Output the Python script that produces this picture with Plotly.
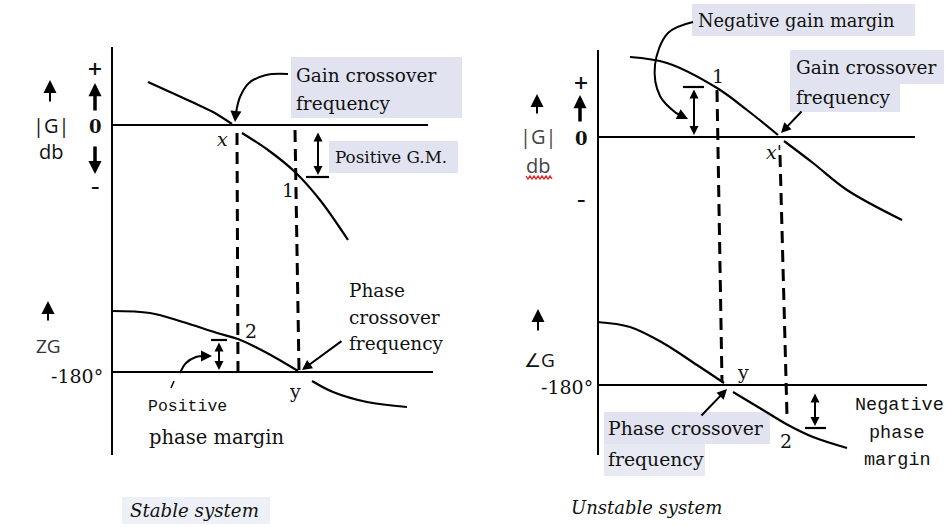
import plotly.graph_objects as go

# ---------------- data (diagram canvas units, 946 x 527) ----------------
# Stable system: magnitude curve (gap around the crossover point x)
stable_gain_x = [148, 170, 192, 213, 232, None, 242, 268, 295, 320, 348]
stable_gain_y = [82, 92, 102, 112, 124, None, 133, 150, 172, 200, 240]
# Stable system: phase curve (gap around the crossover point y)
stable_phase_x = [112, 150, 183, 217, 238, 267, 298, None, 312, 333, 367, 407]
stable_phase_y = [311, 313, 322, 333, 339, 353, 371, None, 381, 392, 402, 407]
# Unstable system: magnitude curve
unstable_gain_x = [630, 667, 717, 747, 778, None, 784, 813, 847, 902]
unstable_gain_y = [57, 63, 88, 110, 135, None, 141, 163, 190, 220]
# Unstable system: phase curve
unstable_phase_x = [597, 630, 663, 697, 724, None, 733, 763, 788, 813, 847]
unstable_phase_y = [322, 327, 343, 365, 383, None, 392, 410, 425, 437, 448]

# dashed frequency markers (top, bottom)
stable_marker_x = [[237, 238], [295, 299]]
stable_marker_y = [[133, 373], [130, 370]]
unstable_marker_x = [[717, 722], [780, 787]]
unstable_marker_y = [[90, 382], [155, 416]]

# reference lines: 0 dB and -180 deg
ref_x = [[112, 428], [112, 433], [598, 915], [598, 927]]
ref_y = [[125, 125], [372, 372], [137, 137], [385, 385]]
axis_x = [[112, 112], [598, 598]]
axis_y = [[47, 455], [50, 455]]

# curved callout arrows
gain_arrow_x = [288, 266, 249, 240, 236]
gain_arrow_y = [74, 75, 83, 97, 113]
pm_arrow_x = [180, 186, 196, 207]
pm_arrow_y = [373, 363, 357, 356]
ngm_arrow_x = [693, 668, 655, 660, 676]
ngm_arrow_y = [22, 33, 65, 96, 113]

fig = go.Figure()

def line(xs, ys, width=2.2, dash=None, shape="linear", color="black"):
    fig.add_trace(go.Scatter(x=xs, y=ys, mode="lines",
                             line=dict(color=color, width=width, dash=dash, shape=shape),
                             hoverinfo="skip", showlegend=False, connectgaps=False))

for xs, ys in zip(axis_x, axis_y):
    line(xs, ys, width=2)
for xs, ys in zip(ref_x, ref_y):
    line(xs, ys, width=1.8)
for xs, ys in [(stable_gain_x, stable_gain_y), (stable_phase_x, stable_phase_y),
               (unstable_gain_x, unstable_gain_y), (unstable_phase_x, unstable_phase_y)]:
    line(xs, ys, width=2.2, shape="spline")
for xs, ys in list(zip(stable_marker_x, stable_marker_y)) + list(zip(unstable_marker_x, unstable_marker_y)):
    line(xs, ys, width=3, dash="12px,7px")
for xs, ys in [(gain_arrow_x, gain_arrow_y), (pm_arrow_x, pm_arrow_y), (ngm_arrow_x, ngm_arrow_y)]:
    line(xs, ys, width=2, shape="spline")

# margin bars
line([306, 329], [177, 177], width=2.2)
line([211, 227], [340, 340], width=2.2)
line([683, 704], [87, 87], width=2.2)
line([805, 826], [428, 428], width=2.2)
line([171, 174], [388, 381], width=1.5)
# red wavy underline under right "db"
line([526 + 2 * i for i in range(14)], [176 if i % 2 == 0 else 179 for i in range(14)],
     width=1.3, color="#d22")

# highlight patches behind printed labels
shapes = []
def patch(x0, y0, x1, y1, op=0.45):
    shapes.append(dict(type="rect", xref="x", yref="y", x0=x0, y0=y0, x1=x1, y1=y1,
                       line=dict(width=0), fillcolor="rgb(188,196,222)", opacity=op, layer="below"))
patch(291, 57, 462, 118)
patch(329, 141, 458, 173)
patch(122, 497, 270, 524, 0.25)
patch(692, 4, 915, 36)
patch(790, 50, 944, 84)
patch(790, 84, 900, 112)
patch(604, 412, 770, 444)
patch(604, 444, 705, 476, 0.35)

anns = []

def arrow(x, y, ax, ay, both=False, width=2, head=2, size=1.0):
    anns.append(dict(x=x, y=y, ax=ax, ay=ay, xref="x", yref="y", axref="x", ayref="y",
                     text="", showarrow=True, arrowhead=head, startarrowhead=head,
                     arrowsize=size, startarrowsize=size,
                     arrowwidth=width, arrowcolor="black",
                     arrowside="end+start" if both else "end"))

# callout arrowheads
arrow(235, 122, 236, 110, head=2, size=1.1)
arrow(212, 356, 204, 356, head=2, size=1.1)
arrow(688, 119, 674, 112, head=2, size=1.1)
arrow(302, 370, 343, 340, head=2, size=1.0)
arrow(727, 389, 700, 417, head=2, size=1.0)
arrow(781, 133, 803, 110, head=2, size=1.0)
# margin double arrows
arrow(318, 175, 318, 131, both=True, head=2, size=0.9)
arrow(219, 370, 219, 341, both=True, head=2, size=0.9)
arrow(694, 135, 694, 88, both=True, head=2, size=0.9)
arrow(815, 426, 815, 392, both=True, head=2, size=0.9)
# axis direction arrows
arrow(50, 80, 50, 103, width=2, head=2, size=1.3)
arrow(95, 83, 95, 112, width=3.5, head=2, size=0.75)
arrow(95, 174, 95, 145, width=3.5, head=2, size=0.75)
arrow(48, 301, 48, 322, width=2, head=2, size=1.3)
arrow(537, 94, 537, 115, width=2, head=2, size=1.3)
arrow(580, 95, 580, 123, width=3.5, head=2, size=0.75)
arrow(538, 309, 538, 332, width=2, head=2, size=1.3)

SERIF = "DejaVu Serif"
SANS = "Open Sans"
MONO = "Liberation Mono"

def text(x, y, s, size=18, family=SERIF, color="#111", xanchor="center", weight=None):
    d = dict(x=x, y=y, xref="x", yref="y", text=s, showarrow=False,
             xanchor=xanchor, yanchor="middle",
             font=dict(family=family, size=size, color=color))
    if weight:
        d["font"]["weight"] = weight
    anns.append(d)

# ---- stable system texts ----
text(294, 75, "Gain crossover", size=18.5, xanchor="left")
text(294, 103, "frequency", size=18.5, xanchor="left")
text(333, 157, "Positive G.M.", size=16.8, xanchor="left")
text(222, 139, "<i>x</i>", size=19)
text(288, 190, "1", size=19)
text(251, 331, "2", size=19)
text(295, 391, "y", size=19)
text(347, 290, "Phase", size=18.5, xanchor="left")
text(347, 317, "crossover", size=18.5, xanchor="left")
text(347, 343, "frequency", size=18.5, xanchor="left")
text(146, 406, "Positive", size=16.5, xanchor="left", family=MONO)
text(147, 437, "phase margin", size=19.5, xanchor="left")
text(128, 510, "<i>Stable system</i>", size=18.2, xanchor="left")

text(51, 125, "|G|", size=20, family=SANS)
text(51, 151, "db", size=20, family=SANS)
text(95, 68, "+", size=19, family=SERIF, weight="bold")
text(95, 126, "0", size=18, family=SERIF, weight="bold")
text(95, 187, "–", size=17, family=SERIF, weight="bold")
text(48, 346, "ZG", size=19, family=SANS, color="#333")
text(77, 376, "-180°", size=19, family=SERIF)

# ---- unstable system texts ----
text(696, 20, "Negative gain margin", size=17.8, xanchor="left")
text(794, 67, "Gain crossover", size=18.5, xanchor="left")
text(794, 97, "frequency", size=18.5, xanchor="left")
text(718, 76, "1", size=19)
text(774, 152, "<i>x'</i>", size=19)
text(743, 372, "y", size=19)
text(786, 441, "2", size=19)
text(899, 405, "Negative", size=18.5, family=MONO)
text(897, 433, "phase", size=18.5, family=MONO)
text(897, 460, "margin", size=18.5, family=MONO)
text(606, 428, "Phase crossover", size=18.8, xanchor="left")
text(606, 459, "frequency", size=18.8, xanchor="left")
text(569, 507, "<i>Unstable system</i>", size=18, xanchor="left")

text(538, 136, "|G|", size=20, family=SANS, color="#444")
text(538, 165, "db", size=20, family=SANS, color="#444")
text(581, 82, "+", size=19, family=SERIF, weight="bold")
text(581, 138, "0", size=18, family=SERIF, weight="bold")
text(581, 200, "–", size=17, family=SERIF, weight="bold")
text(539, 360, "∠G", size=19, family=SANS)
text(567, 387, "-180°", size=19, family=SERIF)

fig.update_layout(
    width=946, height=527,
    margin=dict(l=0, r=0, t=0, b=0),
    plot_bgcolor="white", paper_bgcolor="white",
    xaxis=dict(range=[0, 946], visible=False, fixedrange=True),
    yaxis=dict(range=[527, 0], visible=False, fixedrange=True),
    annotations=anns,
    shapes=shapes,
    showlegend=False,
)

fig.write_html("out.html", config={"displayModeBar": False},
               post_script="document.body.style.margin='0';")
